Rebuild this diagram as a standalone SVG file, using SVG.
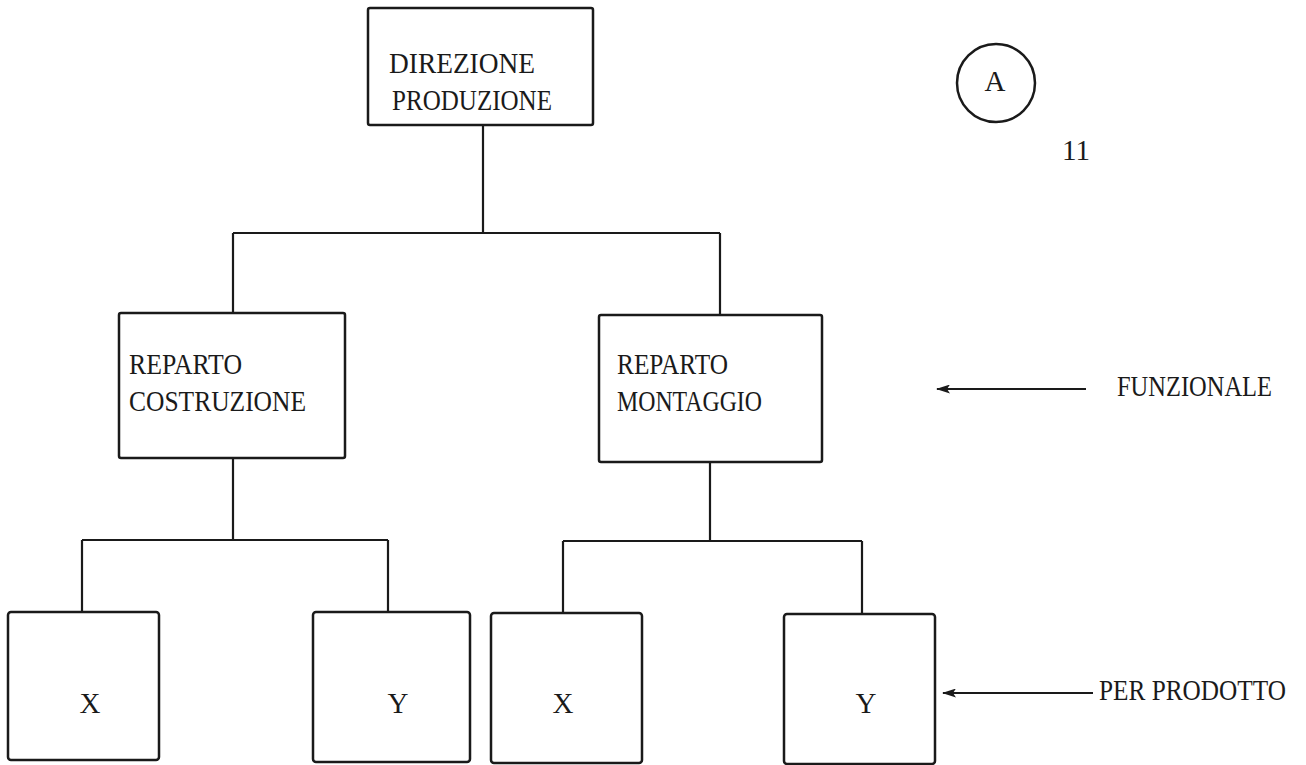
<svg xmlns="http://www.w3.org/2000/svg" width="1306" height="765" viewBox="0 0 1306 765">
  <style>
    .box { fill: none; stroke: #1a1a1a; stroke-width: 2.5; }
    .wire { fill: none; stroke: #1a1a1a; stroke-width: 2.2; }
    .lbl { font-family: "Liberation Serif", "Times New Roman", serif; font-size: 29px; fill: #1a1a1a; }
  </style>
  <defs>
    <marker id="head" viewBox="0 0 14 9" refX="13" refY="4.5" markerWidth="14" markerHeight="9" markerUnits="userSpaceOnUse" orient="auto">
      <path d="M0 0 L14 4.5 L0 9 L3 4.5 Z" fill="#1a1a1a"/>
    </marker>
  </defs>

  <rect width="1306" height="765" fill="#ffffff"/>

  <!-- connectors of the organisation tree -->
  <g id="connectors">
    <path class="wire" d="M483 125 V233 M233 233 H720 M233 233 V313 M720 233 V315"/>
    <path class="wire" d="M233 458 V540 M82 540 H388 M82 540 V612 M388 540 V612"/>
    <path class="wire" d="M710 462 V541 M563 541 H862 M563 541 V613 M862 541 V614"/>
    <line class="wire" x1="1086" y1="389" x2="937" y2="389" marker-end="url(#head)"/>
    <line class="wire" x1="1093" y1="693" x2="943" y2="693" marker-end="url(#head)"/>
  </g>

  <g id="direzione">
    <rect class="box" x="368" y="8" width="225" height="117" rx="2"/>
    <text class="lbl" x="389" y="73" textLength="146" lengthAdjust="spacingAndGlyphs">DIREZIONE</text>
    <text class="lbl" x="392" y="110" textLength="160" lengthAdjust="spacingAndGlyphs">PRODUZIONE</text>
  </g>

  <g id="costruzione">
    <rect class="box" x="119" y="313" width="226" height="145" rx="2"/>
    <text class="lbl" x="129" y="374" textLength="113" lengthAdjust="spacingAndGlyphs">REPARTO</text>
    <text class="lbl" x="129" y="411" textLength="177" lengthAdjust="spacingAndGlyphs">COSTRUZIONE</text>
  </g>

  <g id="montaggio">
    <rect class="box" x="599" y="315" width="223" height="147" rx="2"/>
    <text class="lbl" x="617" y="374" textLength="111" lengthAdjust="spacingAndGlyphs">REPARTO</text>
    <text class="lbl" x="617" y="411" textLength="145" lengthAdjust="spacingAndGlyphs">MONTAGGIO</text>
  </g>

  <g id="costruzione-x">
    <rect class="box" x="8" y="612" width="151" height="148" rx="3"/>
    <text class="lbl" x="90" y="713" text-anchor="middle">X</text>
  </g>
  <g id="costruzione-y">
    <rect class="box" x="313" y="612" width="157" height="150" rx="3"/>
    <text class="lbl" x="398" y="713" text-anchor="middle">Y</text>
  </g>
  <g id="montaggio-x">
    <rect class="box" x="491" y="613" width="151" height="150" rx="3"/>
    <text class="lbl" x="563" y="713" text-anchor="middle">X</text>
  </g>
  <g id="montaggio-y">
    <rect class="box" x="784" y="614" width="151" height="150" rx="3"/>
    <text class="lbl" x="866" y="713" text-anchor="middle">Y</text>
  </g>

  <g id="marker-a">
    <circle class="box" cx="996" cy="83" r="39"/>
    <text class="lbl" x="995" y="91" text-anchor="middle" font-size="24">A</text>
  </g>
  <text class="lbl" x="1076" y="160" text-anchor="middle" font-size="20">11</text>

  <g id="legend">
    <text class="lbl" x="1117" y="396" textLength="155" lengthAdjust="spacingAndGlyphs">FUNZIONALE</text>
    <text class="lbl" x="1099" y="700" font-size="26" textLength="187" lengthAdjust="spacingAndGlyphs">PER PRODOTTO</text>
  </g>
</svg>
